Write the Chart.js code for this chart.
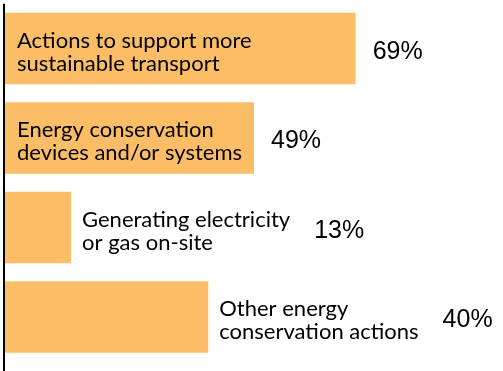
<!DOCTYPE html>
<html>
<head>
<meta charset="utf-8">
<script src="https://cdn.jsdelivr.net/npm/chart.js@4"></script>
<style>
  html, body { margin: 0; padding: 0; background: #fff; }
  #wrap { width: 503px; height: 371px; }
</style>
</head>
<body>
<div id="wrap"><canvas id="actionsChart"></canvas></div>
<script>
// Categorias (cada uma em duas linhas) e percentuais
const categories = [
  ['Actions to support more', 'sustainable transport'],
  ['Energy conservation', 'devices and/or systems'],
  ['Generating electricity', 'or gas on-site'],
  ['Other energy', 'conservation actions']
];
const values = [69, 49, 13, 40];
const valueLabels = ['69%', '49%', '13%', '40%'];

const barColor = '#FBBE66';
const labelFont = '22px Lato';
const pctFont = '25px "Liberation Sans"';

// Desenha o eixo vertical e os textos ao lado/dentro das barras
const barLabels = {
  id: 'barLabels',
  afterDatasetsDraw(chart) {
    const c = chart.ctx;
    const area = chart.chartArea;
    const bars = chart.getDatasetMeta(0).data;

    // linha do eixo
    c.save();
    c.strokeStyle = '#000';
    c.lineWidth = 2;
    c.beginPath();
    c.moveTo(area.left - 1, area.top);
    c.lineTo(area.left - 1, chart.height);
    c.stroke();

    bars.forEach((bar, i) => {
      const lines = categories[i];
      c.font = labelFont;
      const textW = Math.max(...lines.map(l => c.measureText(l).width));
      const barW = bar.x - bar.base;
      const inside = textW + 16 <= barW;
      const tx = inside ? bar.base + 12 : bar.x + 11;

      c.fillStyle = '#000';
      c.textAlign = 'left';
      c.textBaseline = 'alphabetic';
      c.fillText(lines[0], tx, bar.y - 1);
      c.fillText(lines[1], tx, bar.y + 22);

      // percentual depois da barra ou do texto
      const px = inside ? bar.x + 17 : tx + textW + 24;
      c.font = pctFont;
      c.fillText(valueLabels[i], px, bar.y + 10);
    });
    c.restore();
  }
};

new Chart(document.getElementById('actionsChart'), {
  type: 'bar',
  data: {
    labels: categories,
    datasets: [{
      data: values,
      backgroundColor: barColor,
      borderWidth: 0,
      categoryPercentage: 0.8,
      barPercentage: 1
    }]
  },
  options: {
    indexAxis: 'y',
    responsive: true,
    maintainAspectRatio: false,
    animation: false,
    layout: { padding: { left: 5, top: 3.75, bottom: 9.25, right: 0 } },
    scales: {
      x: { display: false, min: 0, max: 98 },
      y: { display: false }
    },
    plugins: {
      legend: { display: false },
      tooltip: { enabled: false }
    }
  },
  plugins: [barLabels]
});
</script>
</body>
</html>
